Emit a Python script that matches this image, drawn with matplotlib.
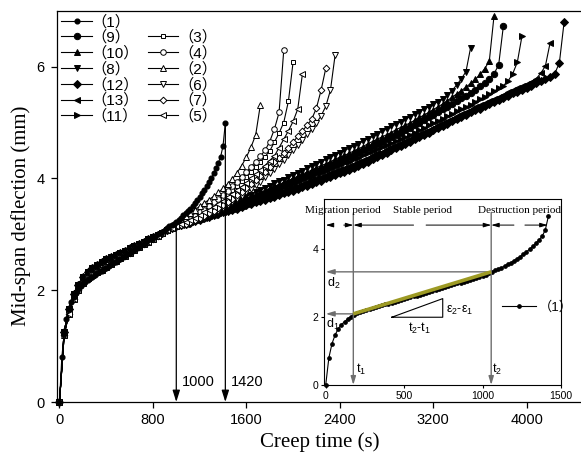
import numpy as np
import matplotlib
matplotlib.use("Agg")
import matplotlib.pyplot as plt
from matplotlib.lines import Line2D

plt.rcParams['mathtext.fontset'] = 'custom'
plt.rcParams['mathtext.rm'] = 'Liberation Sans'
plt.rcParams['mathtext.it'] = 'Liberation Sans:italic'

SANS = ['Liberation Sans', 'Noto Sans CJK SC']
SERIF = ['Liberation Serif']

STEP = 40      # sampling interval of the creep records (s)
STEP_1 = 20    # sampling interval of specimen (1) (s)

# primary-creep stage (0 ... 920 s), shared shape of the two specimen groups
early_filled = [0.00, 1.26, 1.66, 1.93, 2.10, 2.23, 2.32, 2.39, 2.45, 2.50,
                2.55, 2.59, 2.63, 2.67, 2.71, 2.75, 2.79, 2.83, 2.87, 2.91,
                2.95, 2.99, 3.03, 3.07]
early_open = [0.00, 1.20, 1.58, 1.84, 2.01, 2.13, 2.21, 2.27, 2.32, 2.37,
              2.42, 2.47, 2.52, 2.57, 2.62, 2.67, 2.72, 2.77, 2.82, 2.87,
              2.92, 2.97, 3.02, 3.07]

# deflection from 960 s until failure (mm)
late_2 = [3.14, 3.20, 3.26, 3.32, 3.38, 3.44, 3.50, 3.56, 3.62, 3.68,
          3.75, 3.82, 3.90, 3.99, 4.10, 4.23, 4.38, 4.56, 4.78, 5.32]
late_4 = [3.12, 3.15, 3.19, 3.24, 3.28, 3.33, 3.39, 3.44, 3.50, 3.57,
          3.64, 3.71, 3.78, 3.86, 3.94, 4.03, 4.11, 4.21, 4.30, 4.40,
          4.50, 4.66, 4.88, 5.18, 6.29]
late_3 = [3.12, 3.15, 3.18, 3.22, 3.26, 3.31, 3.36, 3.41, 3.47, 3.52,
          3.59, 3.65, 3.72, 3.79, 3.87, 3.95, 4.03, 4.12, 4.21, 4.30,
          4.39, 4.49, 4.65, 4.81, 5.00, 5.38, 6.08]
late_5 = [3.12, 3.15, 3.18, 3.22, 3.26, 3.30, 3.34, 3.39, 3.44, 3.49,
          3.54, 3.60, 3.66, 3.72, 3.79, 3.85, 3.92, 4.00, 4.07, 4.15,
          4.23, 4.32, 4.40, 4.55, 4.70, 4.85, 5.02, 5.24, 5.87]
late_7 = [3.11, 3.14, 3.16, 3.19, 3.22, 3.26, 3.29, 3.33, 3.38, 3.42,
          3.47, 3.52, 3.58, 3.64, 3.70, 3.76, 3.83, 3.90, 3.97, 4.04,
          4.12, 4.20, 4.29, 4.37, 4.46, 4.55, 4.65, 4.75, 4.85, 4.95,
          5.06, 5.26, 5.58, 5.97]
late_6 = [3.11, 3.13, 3.15, 3.17, 3.20, 3.23, 3.27, 3.30, 3.34, 3.38,
          3.42, 3.47, 3.52, 3.57, 3.63, 3.69, 3.75, 3.81, 3.88, 3.94,
          4.02, 4.09, 4.17, 4.25, 4.33, 4.42, 4.50, 4.60, 4.69, 4.79,
          4.88, 4.99, 5.12, 5.29, 5.58, 6.21]
late_8 = [3.12, 3.15, 3.19, 3.22, 3.26, 3.29, 3.32, 3.36, 3.39, 3.43,
          3.46, 3.49, 3.53, 3.56, 3.60, 3.64, 3.68, 3.71, 3.75, 3.79,
          3.83, 3.87, 3.91, 3.95, 3.98, 4.02, 4.06, 4.10, 4.14, 4.18,
          4.22, 4.26, 4.30, 4.34, 4.38, 4.42, 4.46, 4.50, 4.54, 4.58,
          4.62, 4.67, 4.71, 4.75, 4.80, 4.84, 4.88, 4.93, 4.97, 5.01,
          5.06, 5.10, 5.15, 5.19, 5.24, 5.28, 5.33, 5.37, 5.42, 5.49,
          5.57, 5.67, 5.78, 5.91, 6.34]
late_10 = [3.12, 3.15, 3.18, 3.21, 3.25, 3.28, 3.31, 3.34, 3.37, 3.41,
           3.44, 3.47, 3.50, 3.53, 3.57, 3.60, 3.64, 3.68, 3.71, 3.75,
           3.78, 3.82, 3.86, 3.89, 3.93, 3.96, 4.00, 4.04, 4.08, 4.11,
           4.15, 4.19, 4.23, 4.26, 4.30, 4.34, 4.38, 4.41, 4.45, 4.49,
           4.53, 4.57, 4.62, 4.66, 4.70, 4.74, 4.78, 4.82, 4.87, 4.91,
           4.95, 4.99, 5.04, 5.09, 5.13, 5.18, 5.23, 5.28, 5.33, 5.39,
           5.45, 5.51, 5.57, 5.63, 5.70, 5.77, 5.86, 5.96, 6.10, 6.90]
late_9 = [3.12, 3.15, 3.18, 3.21, 3.24, 3.27, 3.30, 3.33, 3.36, 3.39,
          3.42, 3.45, 3.48, 3.51, 3.54, 3.57, 3.61, 3.64, 3.67, 3.71,
          3.74, 3.78, 3.81, 3.85, 3.88, 3.92, 3.95, 3.99, 4.02, 4.06,
          4.09, 4.13, 4.17, 4.20, 4.24, 4.27, 4.31, 4.35, 4.38, 4.42,
          4.46, 4.50, 4.54, 4.58, 4.62, 4.66, 4.70, 4.74, 4.78, 4.82,
          4.86, 4.90, 4.95, 5.00, 5.04, 5.09, 5.14, 5.19, 5.24, 5.28,
          5.33, 5.38, 5.43, 5.47, 5.53, 5.59, 5.65, 5.71, 5.78, 5.87,
          6.03, 6.72]
late_11 = [3.12, 3.14, 3.17, 3.20, 3.23, 3.26, 3.29, 3.32, 3.34, 3.37,
           3.40, 3.43, 3.46, 3.49, 3.52, 3.55, 3.58, 3.61, 3.64, 3.68,
           3.71, 3.74, 3.77, 3.80, 3.84, 3.87, 3.90, 3.93, 3.97, 4.00,
           4.03, 4.07, 4.10, 4.14, 4.17, 4.20, 4.24, 4.27, 4.30, 4.34,
           4.37, 4.41, 4.45, 4.49, 4.52, 4.56, 4.60, 4.63, 4.67, 4.71,
           4.74, 4.78, 4.82, 4.86, 4.90, 4.95, 4.99, 5.03, 5.07, 5.11,
           5.15, 5.20, 5.24, 5.28, 5.32, 5.37, 5.42, 5.46, 5.51, 5.56,
           5.61, 5.66, 5.74, 5.87, 6.08, 6.55]
late_13 = [3.12, 3.14, 3.17, 3.19, 3.22, 3.25, 3.27, 3.30, 3.33, 3.35,
           3.38, 3.40, 3.43, 3.46, 3.48, 3.51, 3.54, 3.57, 3.60, 3.63,
           3.66, 3.69, 3.72, 3.75, 3.78, 3.81, 3.84, 3.87, 3.90, 3.94,
           3.97, 4.00, 4.03, 4.06, 4.10, 4.13, 4.16, 4.19, 4.22, 4.26,
           4.30, 4.33, 4.37, 4.41, 4.45, 4.48, 4.52, 4.56, 4.60, 4.63,
           4.67, 4.71, 4.75, 4.79, 4.83, 4.87, 4.91, 4.95, 4.99, 5.03,
           5.07, 5.11, 5.15, 5.19, 5.23, 5.27, 5.31, 5.35, 5.38, 5.42,
           5.46, 5.50, 5.54, 5.58, 5.61, 5.65, 5.69, 5.73, 5.78, 5.88,
           6.01, 6.42]
late_12 = [3.11, 3.14, 3.16, 3.19, 3.21, 3.24, 3.26, 3.29, 3.31, 3.34,
           3.36, 3.39, 3.41, 3.44, 3.46, 3.49, 3.52, 3.54, 3.57, 3.60,
           3.62, 3.65, 3.67, 3.70, 3.73, 3.75, 3.78, 3.81, 3.84, 3.87,
           3.90, 3.93, 3.96, 4.00, 4.03, 4.06, 4.09, 4.12, 4.15, 4.18,
           4.22, 4.26, 4.30, 4.34, 4.38, 4.42, 4.46, 4.50, 4.54, 4.58,
           4.62, 4.66, 4.70, 4.74, 4.78, 4.82, 4.86, 4.90, 4.94, 4.98,
           5.02, 5.06, 5.10, 5.14, 5.18, 5.22, 5.25, 5.29, 5.33, 5.37,
           5.40, 5.44, 5.48, 5.52, 5.55, 5.59, 5.62, 5.66, 5.70, 5.74,
           5.78, 5.82, 5.87, 6.07, 6.79]

# specimen (1), full record at 20 s intervals (0 ... 1420 s)
defl_1 = [0.00, 0.80, 1.22, 1.48, 1.66, 1.78, 1.87, 1.95, 2.02, 2.08,
          2.12, 2.15, 2.18, 2.21, 2.24, 2.27, 2.30, 2.32, 2.35, 2.38,
          2.40, 2.43, 2.46, 2.48, 2.51, 2.54, 2.56, 2.59, 2.62, 2.64,
          2.67, 2.70, 2.72, 2.75, 2.78, 2.80, 2.83, 2.86, 2.89, 2.91,
          2.94, 2.97, 3.00, 3.02, 3.05, 3.08, 3.11, 3.14, 3.17, 3.19,
          3.22, 3.26, 3.30, 3.34, 3.38, 3.42, 3.46, 3.51, 3.56, 3.61,
          3.67, 3.73, 3.79, 3.86, 3.93, 4.01, 4.09, 4.18, 4.28, 4.39,
          4.58, 4.99]

# stage boundaries of specimen (1)
t1, t2 = 176, 1055
d1, d2 = 2.10, 3.34
arrow_times = [1000, 1420]
arrow_tops = [3.15, 4.99]

# label, primary stage, later stage, marker, filled, marker size
filled_specs = [
    ('（9）', early_filled, late_9, 'o', True, 4.6),
    ('（10）', early_filled, late_10, '^', True, 5.0),
    ('（8）', early_filled, late_8, 'v', True, 5.0),
    ('（12）', early_filled, late_12, 'D', True, 3.6),
    ('（13）', early_filled, late_13, '<', True, 5.0),
    ('（11）', early_filled, late_11, '>', True, 5.0),
]
open_specs = [
    ('（3）', early_open, late_3, 's', False, 3.4),
    ('（4）', early_open, late_4, 'o', False, 4.0),
    ('（2）', early_open, late_2, '^', False, 4.4),
    ('（6）', early_open, late_6, 'v', False, 4.4),
    ('（7）', early_open, late_7, 'D', False, 3.4),
    ('（5）', early_open, late_5, '<', False, 4.4),
]

fig = plt.figure(figsize=(5.81, 4.57), dpi=100)
ax = fig.add_axes([57.5 / 581, 55 / 457, 1 - 57.5 / 581, 391.3 / 457])

handles = {}
for label, early, late, mk, filled, ms in filled_specs + open_specs:
    y = np.array(early + late)
    t = np.arange(len(y)) * STEP
    ln, = ax.plot(t, y, color='black', lw=0.8, marker=mk, ms=ms,
                  mfc='black' if filled else 'white', mec='black', mew=0.7,
                  label=label, clip_on=False, zorder=3 if filled else 4)
    handles[label] = ln

y1 = np.array(defl_1)
tt1 = np.arange(len(y1)) * STEP_1
ln1, = ax.plot(tt1, y1, color='black', lw=0.8, marker='o', ms=3.4,
               mfc='black', mec='black', label='（1）', clip_on=False, zorder=5)

ax.set_xlim(-17, 4465)
ax.set_ylim(0, 7.0)
ax.set_xticks([0, 800, 1600, 2400, 3200, 4000])
ax.set_yticks([0, 2, 4, 6])
ax.spines['right'].set_visible(False)
for s in ['left', 'bottom', 'top']:
    ax.spines[s].set_linewidth(0.9)
ax.tick_params(direction='out', length=4.5, width=0.9, labelsize=10.5)
ax.tick_params(axis='y', pad=5)
for lab in ax.get_xticklabels() + ax.get_yticklabels():
    lab.set_family(SANS)
ax.set_xlabel('Creep time (s)', family=SERIF, fontsize=15)
ax.set_ylabel('Mid-span deflection (mm)', family=SERIF, fontsize=15)
ax.xaxis.set_label_coords(0.5, -0.078)
ax.yaxis.set_label_coords(-0.05, 0.475)

# failure-time markers
for tx, ty in zip(arrow_times, arrow_tops):
    ax.annotate('', xy=(tx, 0), xytext=(tx, ty),
                arrowprops=dict(arrowstyle='-|>,head_length=0.7,head_width=0.22',
                                color='black', lw=0.9, shrinkA=0, shrinkB=0),
                zorder=6)
    ax.annotate(str(tx), xy=(tx, 0.36), xytext=(4, 0), textcoords='offset points',
                ha='left', va='center', fontsize=10.5, family=SANS)

blank = Line2D([], [], linestyle='none', marker=None)
order_left = ['（9）', '（10）', '（8）', '（12）', '（13）', '（11）']
order_right = ['（3）', '（4）', '（2）', '（6）', '（7）', '（5）']
hl = [ln1] + [handles[k] for k in order_left] + [blank] + [handles[k] for k in order_right]
ll = ['（1）'] + order_left + [''] + order_right
leg = ax.legend(hl, ll, loc='upper left', bbox_to_anchor=(0.0, 1.0), ncol=2,
                frameon=False, handlelength=2.0, handletextpad=0.0,
                labelspacing=0.08, columnspacing=0.55, borderaxespad=0.05,
                borderpad=0.2, prop={'family': SANS, 'size': 11})

# ---- inset: stages of specimen (1) ----
ins = fig.add_axes([324.3 / 581, 72 / 457, 236.7 / 581, 186 / 457])
ins.plot(tt1, y1, color='black', lw=0.8, marker='o', ms=2.4, zorder=3,
         clip_on=False)
ins.plot([t1, t2], [d1, d2], color='#9d9a24', lw=2.6, zorder=4,
         solid_capstyle='butt')
ins.set_xlim(-9, 1500)
ins.set_ylim(0, 5.49)
ins.set_xticks([0, 500, 1000, 1500])
ins.set_yticks([0, 2, 4])
for s in ins.spines.values():
    s.set_linewidth(0.8)
ins.tick_params(direction='out', length=2.5, width=0.8, labelsize=7.5, pad=1.5)
for lab in ins.get_xticklabels() + ins.get_yticklabels():
    lab.set_family(SANS)

gray = '#6e6e6e'
thin = dict(color=gray, lw=1.0, shrinkA=0, shrinkB=0,
            arrowstyle='-|>,head_length=0.5,head_width=0.15')
for tx in (t1, t2):
    ins.annotate('', xy=(tx, 0), xytext=(tx, 5.08), arrowprops=thin)
ins.annotate('', xy=(0, d2), xytext=(t2, d2), arrowprops=thin)
ins.annotate('', xy=(0, d1), xytext=(t1, d1), arrowprops=thin)

dim = dict(color='black', lw=0.7, shrinkA=0, shrinkB=0,
           arrowstyle='-|>,head_length=0.45,head_width=0.13')
yr = 4.72
for head, tail in [(0, 40), (t1, 115), (t1, 560), (t2, 640), (t2, 1200), (1415, 1270)]:
    ins.annotate('', xy=(head, yr), xytext=(tail, yr), arrowprops=dim)

ins.text(110, 5.16, 'Migration period', family=SERIF, fontsize=8,
         ha='center', va='center', clip_on=False)
ins.text(615, 5.16, 'Stable period', family=SERIF, fontsize=8,
         ha='center', va='center')
ins.text(1234, 5.16, 'Destruction period', family=SERIF, fontsize=8,
         ha='center', va='center')

ins.text(t1 + 15, 0.25, 't$_1$', fontsize=9, family=SANS, ha='left', va='bottom')
ins.text(t2 + 8, 0.25, 't$_2$', fontsize=9, family=SANS, ha='left', va='bottom')
ins.text(6, d2 - 0.12, 'd$_2$', fontsize=9, family=SANS, ha='left', va='top')
ins.text(2, d1 - 0.1, 'd$_1$', fontsize=9, family=SANS, ha='left', va='top',
         zorder=6)

# slope triangle
ins.plot([421, 746, 746, 421], [2.0, 2.0, 2.55, 2.0], color='black', lw=0.8)
ins.text(765, 2.2, 'ε$_2$-ε$_1$', fontsize=9, family=SANS, ha='left', va='center')
ins.text(600, 1.68, 't$_2$-t$_1$', fontsize=9, family=SANS, ha='center', va='center')

ins.legend([Line2D([], [], color='black', lw=0.8, marker='o', ms=2.4)], ['（1）'],
           loc='center left', bbox_to_anchor=(0.70, 0.418), frameon=False,
           handlelength=2.6, handletextpad=0.2, numpoints=1,
           prop={'family': SANS, 'size': 9.5})

fig.savefig('out.png', dpi=100)
